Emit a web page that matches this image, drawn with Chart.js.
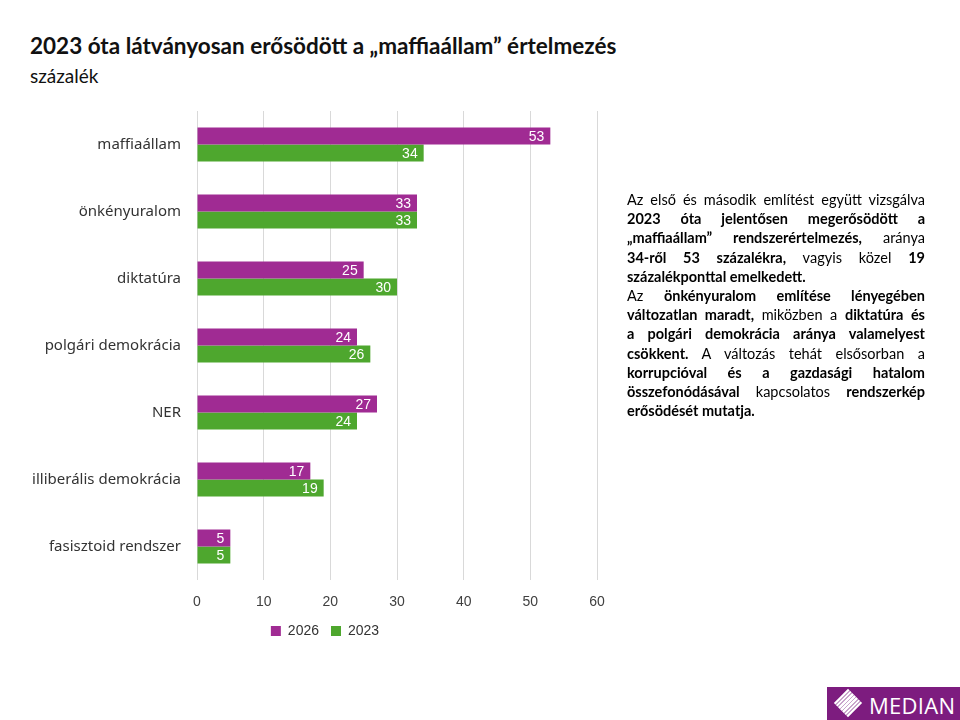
<!DOCTYPE html>
<html lang="hu">
<head>
<meta charset="utf-8">
<script src="https://cdn.jsdelivr.net/npm/chart.js@4"></script>
<style>
  html, body { margin: 0; padding: 0; background: #fff; }
  body { width: 960px; height: 720px; position: relative; overflow: hidden; font-family: Lato, "Open Sans", sans-serif; color: #111; }
  #title { position: absolute; left: 30px; top: 32px; font-size: 22.5px; font-weight: bold; white-space: nowrap; }
  #subtitle { position: absolute; left: 30px; top: 64px; font-size: 19px; }
  #wrap { position: absolute; left: 0; top: 94px; width: 650px; height: 566px; }
  #note { position: absolute; left: 627px; top: 190px; width: 298px; font-size: 14.5px; line-height: 19.2px; color: #000; }
  #note div { text-align: justify; text-align-last: justify; white-space: nowrap; }
  #note div.end { text-align-last: left; }
  #logo { position: absolute; left: 827px; top: 687px; width: 133px; height: 33px; background: #7d1c7f; color: #fff; }
  #logo .mark { position: absolute; left: 11px; top: 6px; width: 20px; height: 20px; transform: rotate(45deg);
    background: repeating-linear-gradient(90deg, #fff 0 2px, #c9a6cc 2px 3px); }
  #logo .name { position: absolute; left: 42px; top: 3px; font-family: "Open Sans", sans-serif; font-size: 22px; letter-spacing: 0.3px; }
</style>
</head>
<body>
<div id="title">2023 óta látványosan erősödött a „maffiaállam” értelmezés</div>
<div id="subtitle">százalék</div>
<div id="wrap"><canvas id="chart"></canvas></div>
<div id="note">
  <div>Az első és második említést együtt vizsgálva</div>
  <div><b>2023 óta jelentősen megerősödött a</b></div>
  <div><b>„maffiaállam” rendszerértelmezés,</b> aránya</div>
  <div><b>34-ről 53 százalékra,</b> vagyis közel <b>19</b></div>
  <div class="end"><b>százalékponttal emelkedett.</b></div>
  <div>Az <b>önkényuralom említése lényegében</b></div>
  <div><b>változatlan maradt,</b> miközben a <b>diktatúra és</b></div>
  <div><b>a polgári demokrácia aránya valamelyest</b></div>
  <div><b>csökkent.</b> A változás tehát elsősorban a</div>
  <div><b>korrupcióval és a gazdasági hatalom</b></div>
  <div><b>összefonódásával</b> kapcsolatos <b>rendszerkép</b></div>
  <div class="end"><b>erősödését mutatja.</b></div>
</div>
<div id="logo"><div class="mark"></div><div class="name">MEDIAN</div></div>
<script>
const categories = ['maffiaállam', 'önkényuralom', 'diktatúra', 'polgári demokrácia', 'NER', 'illiberális demokrácia', 'fasisztoid rendszer'];
const values2026 = [53, 33, 25, 24, 27, 17, 5];
const values2023 = [34, 33, 30, 26, 24, 19, 5];
const xMin = 0, xMax = 60, xStep = 10;

// white value labels inside the bar ends
const valueLabels = {
  id: 'valueLabels',
  afterDatasetsDraw(chart) {
    const ctx = chart.ctx;
    ctx.save();
    ctx.font = '14px "Liberation Sans", Arial, sans-serif';
    ctx.fillStyle = '#ffffff';
    ctx.textAlign = 'right';
    ctx.textBaseline = 'middle';
    chart.data.datasets.forEach((ds, i) => {
      chart.getDatasetMeta(i).data.forEach((bar, j) => {
        ctx.fillText(ds.data[j], bar.x - 6, bar.y + 1);
      });
    });
    ctx.restore();
  }
};

new Chart(document.getElementById('chart'), {
  type: 'bar',
  data: {
    labels: categories,
    datasets: [{
      label: '2026',
      data: values2026,
      backgroundColor: '#a02b93',
      categoryPercentage: 0.51,
      barPercentage: 1
    }, {
      label: '2023',
      data: values2023,
      backgroundColor: '#4ea72e',
      categoryPercentage: 0.51,
      barPercentage: 1
    }]
  },
  options: {
    indexAxis: 'y',
    responsive: true,
    maintainAspectRatio: false,
    animation: false,
    layout: { padding: { top: 0, bottom: 12, left: 0, right: 0 } },
    scales: {
      x: {
        min: xMin,
        max: xMax,
        ticks: { stepSize: xStep, padding: 14, color: '#404040', font: { family: '"Liberation Sans", Arial', size: 14 } },
        grid: { color: '#d9d9d9', drawTicks: false },
        border: { display: false },
        afterFit(s) { s.height = 32; }
      },
      y: {
        ticks: { padding: 8, color: '#333333', font: { family: '"Noto Sans", sans-serif', size: 15 } },
        grid: { display: false },
        border: { display: false },
        afterFit(s) { s.width = 197; }
      },
      y2: {
        type: 'linear',
        position: 'right',
        display: true,
        ticks: { display: false },
        grid: { display: false },
        border: { display: false },
        afterFit(s) { s.width = 53; }
      }
    },
    plugins: {
      legend: {
        position: 'bottom',
        labels: {
          boxWidth: 10,
          boxHeight: 10,
          padding: 12,
          color: '#333333',
          font: { family: '"Liberation Sans", Arial', size: 14 }
        }
      },
      tooltip: { enabled: false }
    }
  },
  plugins: [valueLabels]
});
</script>
</body>
</html>
